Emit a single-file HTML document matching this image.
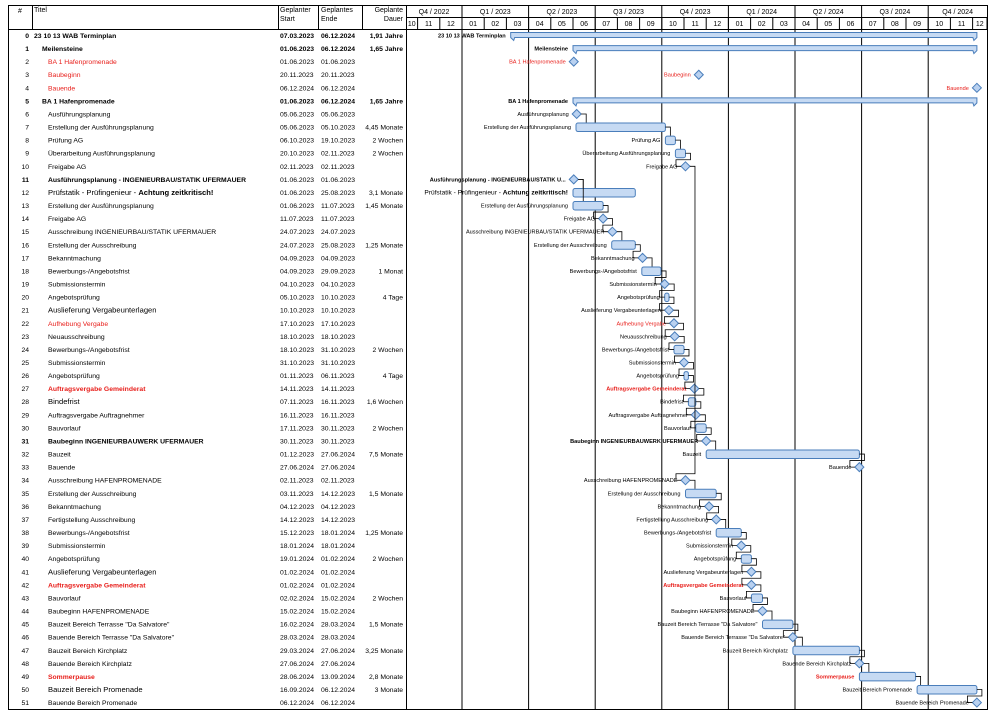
<!DOCTYPE html>
<html><head><meta charset="utf-8">
<style>
body{margin:0;background:#fff;}
svg{display:block;font-family:"Liberation Sans",Arial,sans-serif;}
</style></head><body>
<svg id="s" width="995" height="714" xmlns="http://www.w3.org/2000/svg"></svg>
<script>
const rows=[
["0","23 10 13 WAB Terminplan","07.03.2023","06.12.2024","1,91 Jahre","S",0,"b"],
["1","Meilensteine","01.06.2023","06.12.2024","1,65 Jahre","S",1,"b"],
["2","BA 1 Hafenpromenade","01.06.2023","01.06.2023","","M",2,"r"],
["3","Baubeginn","20.11.2023","20.11.2023","","M",2,"r"],
["4","Bauende","06.12.2024","06.12.2024","","M",2,"r"],
["5","BA 1 Hafenpromenade","01.06.2023","06.12.2024","1,65 Jahre","S",1,"b"],
["6","Ausführungsplanung","05.06.2023","05.06.2023","","M",2,""],
["7","Erstellung der Ausführungsplanung","05.06.2023","05.10.2023","4,45 Monate","T",2,""],
["8","Prüfung AG","06.10.2023","19.10.2023","2 Wochen","T",2,""],
["9","Überarbeitung Ausführungsplanung","20.10.2023","02.11.2023","2 Wochen","T",2,""],
["10","Freigabe AG","02.11.2023","02.11.2023","","M",2,""],
["11","Ausführungsplanung  - INGENIEURBAU/STATIK UFERMAUER","01.06.2023","01.06.2023","","M",2,"b"],
["12","Prüfstatik - Prüfingenieur - <tspan font-weight='bold'>Achtung zeitkritisch!</tspan>","01.06.2023","25.08.2023","3,1 Monate","T",2,"LC"],
["13","Erstellung der Ausführungsplanung","01.06.2023","11.07.2023","1,45 Monate","T",2,""],
["14","Freigabe AG","11.07.2023","11.07.2023","","M",2,""],
["15","Ausschreibung INGENIEURBAU/STATIK UFERMAUER","24.07.2023","24.07.2023","","M",2,""],
["16","Erstellung der Ausschreibung","24.07.2023","25.08.2023","1,25 Monate","T",2,""],
["17","Bekanntmachung","04.09.2023","04.09.2023","","M",2,""],
["18","Bewerbungs-/Angebotsfrist","04.09.2023","29.09.2023","1 Monat","T",2,""],
["19","Submissionstermin","04.10.2023","04.10.2023","","M",2,""],
["20","Angebotsprüfung","05.10.2023","10.10.2023","4 Tage","T",2,""],
["21","Auslieferung Vergabeunterlagen","10.10.2023","10.10.2023","","M",2,"L"],
["22","Aufhebung Vergabe","17.10.2023","17.10.2023","","M",2,"r"],
["23","Neuausschreibung","18.10.2023","18.10.2023","","M",2,""],
["24","Bewerbungs-/Angebotsfrist","18.10.2023","31.10.2023","2 Wochen","T",2,""],
["25","Submissionstermin","31.10.2023","31.10.2023","","M",2,""],
["26","Angebotsprüfung","01.11.2023","06.11.2023","4 Tage","T",2,""],
["27","Auftragsvergabe Gemeinderat","14.11.2023","14.11.2023","","M",2,"rb"],
["28","Bindefrist","07.11.2023","16.11.2023","1,6 Wochen","T",2,"L"],
["29","Auftragsvergabe Auftragnehmer","16.11.2023","16.11.2023","","M",2,""],
["30","Bauvorlauf","17.11.2023","30.11.2023","2 Wochen","T",2,""],
["31","Baubeginn INGENIEURBAUWERK UFERMAUER","30.11.2023","30.11.2023","","M",2,"b"],
["32","Bauzeit","01.12.2023","27.06.2024","7,5 Monate","T",2,""],
["33","Bauende","27.06.2024","27.06.2024","","M",2,""],
["34","Ausschreibung HAFENPROMENADE","02.11.2023","02.11.2023","","M",2,""],
["35","Erstellung der Ausschreibung","03.11.2023","14.12.2023","1,5 Monate","T",2,""],
["36","Bekanntmachung","04.12.2023","04.12.2023","","M",2,""],
["37","Fertigstellung Ausschreibung","14.12.2023","14.12.2023","","M",2,""],
["38","Bewerbungs-/Angebotsfrist","15.12.2023","18.01.2024","1,25 Monate","T",2,""],
["39","Submissionstermin","18.01.2024","18.01.2024","","M",2,""],
["40","Angebotsprüfung","19.01.2024","01.02.2024","2 Wochen","T",2,""],
["41","Auslieferung Vergabeunterlagen","01.02.2024","01.02.2024","","M",2,"L"],
["42","Auftragsvergabe Gemeinderat","01.02.2024","01.02.2024","","M",2,"rb"],
["43","Bauvorlauf","02.02.2024","15.02.2024","2 Wochen","T",2,""],
["44","Baubeginn HAFENPROMENADE","15.02.2024","15.02.2024","","M",2,""],
["45","Bauzeit Bereich Terrasse \"Da Salvatore\"","16.02.2024","28.03.2024","1,5 Monate","T",2,""],
["46","Bauende Bereich Terrasse \"Da Salvatore\"","28.03.2024","28.03.2024","","M",2,""],
["47","Bauzeit Bereich Kirchplatz","29.03.2024","27.06.2024","3,25 Monate","T",2,""],
["48","Bauende Bereich Kirchplatz","27.06.2024","27.06.2024","","M",2,""],
["49","Sommerpause","28.06.2024","13.09.2024","2,8 Monate","T",2,"rb"],
["50","Bauzeit Bereich Promenade","16.09.2024","06.12.2024","3 Monate","T",2,"L"],
["51","Bauende Bereich Promenade","06.12.2024","06.12.2024","","M",2,""]
];
const W=22.2,X0=462,T0=29,RH=13.08,R=987,B=709;
const dim=[31,28,31,30,31,30,31,31,30,31,30,31];
function dx(s,end){const[d,m,y]=s.split(".").map(Number);let mi=(y-2023)*12+(m-1);let dd=end?d:d-1;return X0+W*(mi+dd/dim[m-1]);}
let o=[];
const E=(t)=>o.push(t);
E(`<rect x="8.5" y="5.5" width="${R-8}" height="${B-5}" fill="none" stroke="#000" stroke-width="1"/>`);
E(`<line x1="8" y1="${T0+.5}" x2="${R}" y2="${T0+.5}" stroke="#000"/>`);
E(`<line x1="406" y1="17.5" x2="${R}" y2="17.5" stroke="#000"/>`);
[32,278,318,362].forEach(x=>E(`<line x1="${x+.5}" y1="5" x2="${x+.5}" y2="${T0}" stroke="#000"/>`));
E(`<line x1="406.5" y1="5" x2="406.5" y2="${B}" stroke="#000"/>`);
const hs='font-size="7"';
E(`<text x="20" y="13" ${hs} text-anchor="middle">#</text><text x="34" y="12" ${hs}>Titel</text>`);
E(`<text x="280" y="12" ${hs}>Geplanter</text><text x="280" y="21" ${hs}>Start</text>`);
E(`<text x="321" y="12" ${hs}>Geplantes</text><text x="321" y="21" ${hs}>Ende</text>`);
E(`<text x="403" y="12" ${hs} text-anchor="end">Geplante</text><text x="403" y="21" ${hs} text-anchor="end">Dauer</text>`);
for(let mi=-3;mi<24;mi++){
 let x1=Math.max(406,X0+W*mi), x2=Math.min(R,X0+W*(mi+1));
 let m=((mi%12)+12)%12+1;
 E(`<line x1="${x2.toFixed(1)}" y1="17" x2="${x2.toFixed(1)}" y2="${T0}" stroke="#000"/>`);
 E(`<text x="${((x1+x2)/2).toFixed(1)}" y="26" ${hs} text-anchor="middle">${String(m).padStart(2,"0")}</text>`);
}
for(let q=-1;q<8;q++){
 let x1=Math.max(406,X0+W*3*q), x2=Math.min(R,X0+W*3*(q+1));
 let y=2023+Math.floor(q/4), qq=((q%4)+4)%4+1;
 if(q>=0&&x1<R) E(`<line x1="${x1.toFixed(1)}" y1="5" x2="${x1.toFixed(1)}" y2="${B}" stroke="#000"/>`);
 E(`<text x="${((x1+x2)/2).toFixed(1)}" y="14" ${hs} text-anchor="middle">Q${qq} / ${y}</text>`);
}
const geo=[];
rows.forEach((r,i)=>{
 const yc=T0+i*RH+6.5, yb=yc+2.5;
 const st=r[7];
 const bold=st.includes("b"), red=st.includes("r"), big=st.includes("L"), cbig=st.includes("C");
 const fw=bold?' font-weight="bold"':'';
 const col=red?'#e8201c':'#000';
 const fs=big?7.6:6.8;
 E(`<text x="29" y="${yb}" font-size="6.8" text-anchor="end"${bold&&!red?fw:''}>${r[0]}</text>`);
 const tx=[34,42,48][r[6]];
 E(`<text x="${tx}" y="${yb}" font-size="${fs}" fill="${col}"${fw}>${r[1]}</text>`);
 const dfw=(r[5]=="S")?' font-weight="bold"':'';
 E(`<text x="280" y="${yb}" font-size="6.8"${dfw}>${r[2]}</text><text x="321" y="${yb}" font-size="6.8"${dfw}>${r[3]}</text>`);
 if(r[4]) E(`<text x="403" y="${yb}" font-size="6.8" text-anchor="end"${dfw}>${r[4]}</text>`);
 let x1=dx(r[2],false), x2=dx(r[3],true), lx;
 let lab=r[1]; if(i==11) lab="Ausführungsplanung  - INGENIEURBAU/STATIK U...";
 if(r[5]=="S"){
  E(`<path d="M${x1} ${yc-3} H${x2} V${yc+2} l-3 3 l-1 -3 H${x1+4} l-1 3 l-3 -3 Z" fill="#c6daf3" stroke="#4a7ebb" stroke-width="1"/>`);
  lx=x1-5; geo.push({s:x1,e:x2,yc,m:false});
 } else if(r[5]=="M"){
  x1=dx(r[2],true);
  E(`<path d="M${x1} ${yc-4.5} l4.5 4.5 l-4.5 4.5 l-4.5 -4.5 Z" fill="#b9d1f0" stroke="#4a7ebb" stroke-width="1"/>`);
  lx=x1-8; geo.push({s:x1-4.5,e:x1+4.5,yc,m:true,c:x1});
 } else {
  E(`<rect x="${x1.toFixed(1)}" y="${yc-4}" width="${Math.max(3,x2-x1).toFixed(1)}" height="8.5" rx="2" fill="#c6daf3" stroke="#4a7ebb" stroke-width="1"/>`);
  lx=x1-5; geo.push({s:x1,e:Math.max(x1+3,x2),yc,m:false});
 }
 const lfs=cbig?6.6:5.6;
 E(`<text x="${lx.toFixed(1)}" y="${yc+2}" font-size="${lfs}" fill="${col}" text-anchor="end"${fw}>${lab}</text>`);
});
const deps=[[6,7],[7,8],[8,9],[9,10],[10,34],[11,12],[11,13],[13,14],[14,15],[15,16]];
for(let i=16;i<33;i++) deps.push([i,i+1]);
for(let i=34;i<51;i++) deps.push([i,i+1]);
deps.forEach(([a,b])=>{
 const A=geo[a],Bq=geo[b];
 const xa=A.e, ya=A.yc, xr=xa+5;
 let d;
 if(!Bq.m && Bq.e>xr+2 && Bq.s<=xr){
  d=`M${xa} ${ya} H${xr} V${Bq.yc-4.5}`;
 } else if(Bq.s>xr){
  const cx=Bq.m?Bq.c:Bq.s+3;
  d=`M${xa} ${ya} H${cx} V${Bq.yc-4.5}`;
 } else {
  const yb=b-a>1? Bq.yc-6.5 : ya+6.5;
  d=`M${xa} ${ya} H${xr} V${yb} H${Bq.s-5} V${Bq.yc} H${Bq.s}`;
 }
 E(`<path d="${d}" fill="none" stroke="#000" stroke-width="0.8"/>`);
});
document.getElementById("s").innerHTML=o.join("");
</script>
</body></html>
